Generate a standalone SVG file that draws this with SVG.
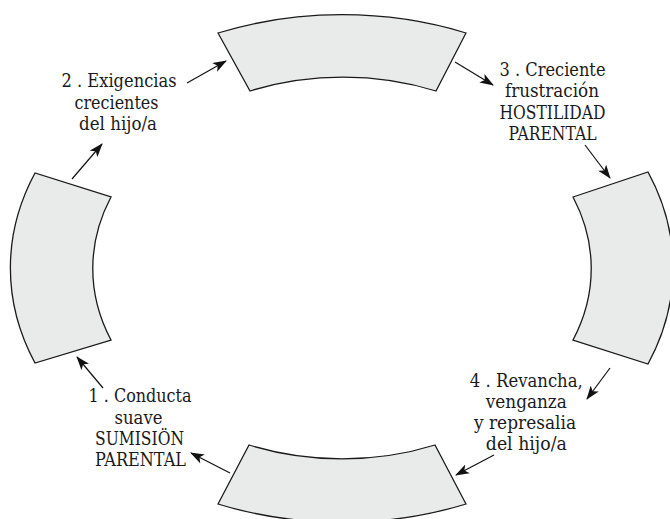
<svg xmlns="http://www.w3.org/2000/svg" width="670" height="519" viewBox="0 0 670 519">
<defs>
<style>
.seg{fill:#e9ebea;stroke:#1a1a1a;stroke-width:1.3;stroke-linejoin:miter}
.con{stroke:#111;stroke-width:1.2;fill:none;marker-end:url(#ah)}
.lbl{font-family:"DejaVu Serif","Liberation Serif",serif;font-size:18px;fill:#1a1a1a;text-anchor:middle}
</style>
<marker id="ah" viewBox="0 0 14 10" refX="13" refY="5" markerWidth="14" markerHeight="10" markerUnits="userSpaceOnUse" orient="auto">
<path d="M0,0 L14,5 L0,10 L3.5,5 Z" fill="#111"/>
</marker>
</defs>
<rect width="670" height="519" fill="#ffffff"/>

<g id="seg-top"><path class="seg" d="M218,33 A331,251 0 0 1 466,33 L436,91 A248,190 0 0 0 250,91 Z"/></g>
<g id="seg-right"><path class="seg" d="M648,172 A331,251 0 0 1 648,364 L573,340 A248,190 0 0 0 573,197 Z"/></g>
<g id="seg-bottom"><path class="seg" d="M466,504 A331,251 0 0 1 218,504 L249,445 A248,190 0 0 0 435,445 Z"/></g>
<g id="seg-left"><path class="seg" d="M35,363 A331,251 0 0 1 35,173 L111,197 A248,190 0 0 0 111,340 Z"/></g>

<g id="connectors">
<line class="con" x1="103" y1="388" x2="77" y2="357"/>
<line class="con" x1="72" y1="179" x2="102" y2="144"/>
<line class="con" x1="187" y1="83" x2="226" y2="61"/>
<line class="con" x1="455" y1="62" x2="493" y2="85"/>
<line class="con" x1="585" y1="145" x2="610" y2="178"/>
<line class="con" x1="610" y1="368" x2="587" y2="399"/>
<line class="con" x1="494" y1="455" x2="456" y2="475"/>
<line class="con" x1="230" y1="473" x2="191" y2="453"/>
</g>

<g id="label-1">
<text class="lbl" x="140" y="402" textLength="103" lengthAdjust="spacingAndGlyphs">1 . Conducta</text>
<text class="lbl" x="138.5" y="423.5" textLength="48" lengthAdjust="spacingAndGlyphs">suave</text>
<text class="lbl" x="139.5" y="445" textLength="89" lengthAdjust="spacingAndGlyphs">SUMISIÖN</text>
<text class="lbl" x="140.5" y="466" textLength="91" lengthAdjust="spacingAndGlyphs">PARENTAL</text>
</g>
<g id="label-2">
<text class="lbl" x="119" y="87" textLength="115" lengthAdjust="spacingAndGlyphs">2 . Exigencias</text>
<text class="lbl" x="116.5" y="108.5" textLength="84" lengthAdjust="spacingAndGlyphs">crecientes</text>
<text class="lbl" x="118" y="130" textLength="78" lengthAdjust="spacingAndGlyphs">del hijo/a</text>
</g>
<g id="label-3">
<text class="lbl" x="552.5" y="76" textLength="106" lengthAdjust="spacingAndGlyphs">3 . Creciente</text>
<text class="lbl" x="552" y="97" textLength="94" lengthAdjust="spacingAndGlyphs">frustración</text>
<text class="lbl" x="552.5" y="118.5" textLength="106" lengthAdjust="spacingAndGlyphs">HOSTILIDAD</text>
<text class="lbl" x="552.5" y="140" textLength="88" lengthAdjust="spacingAndGlyphs">PARENTAL</text>
</g>
<g id="label-4">
<text class="lbl" x="526.3" y="386.5" textLength="113" lengthAdjust="spacingAndGlyphs">4 . Revancha,</text>
<text class="lbl" x="526.3" y="407.5" textLength="81" lengthAdjust="spacingAndGlyphs">venganza</text>
<text class="lbl" x="525" y="428.5" textLength="102" lengthAdjust="spacingAndGlyphs">y represalia</text>
<text class="lbl" x="526.3" y="450" textLength="81" lengthAdjust="spacingAndGlyphs">del hijo/a</text>
</g>
</svg>
